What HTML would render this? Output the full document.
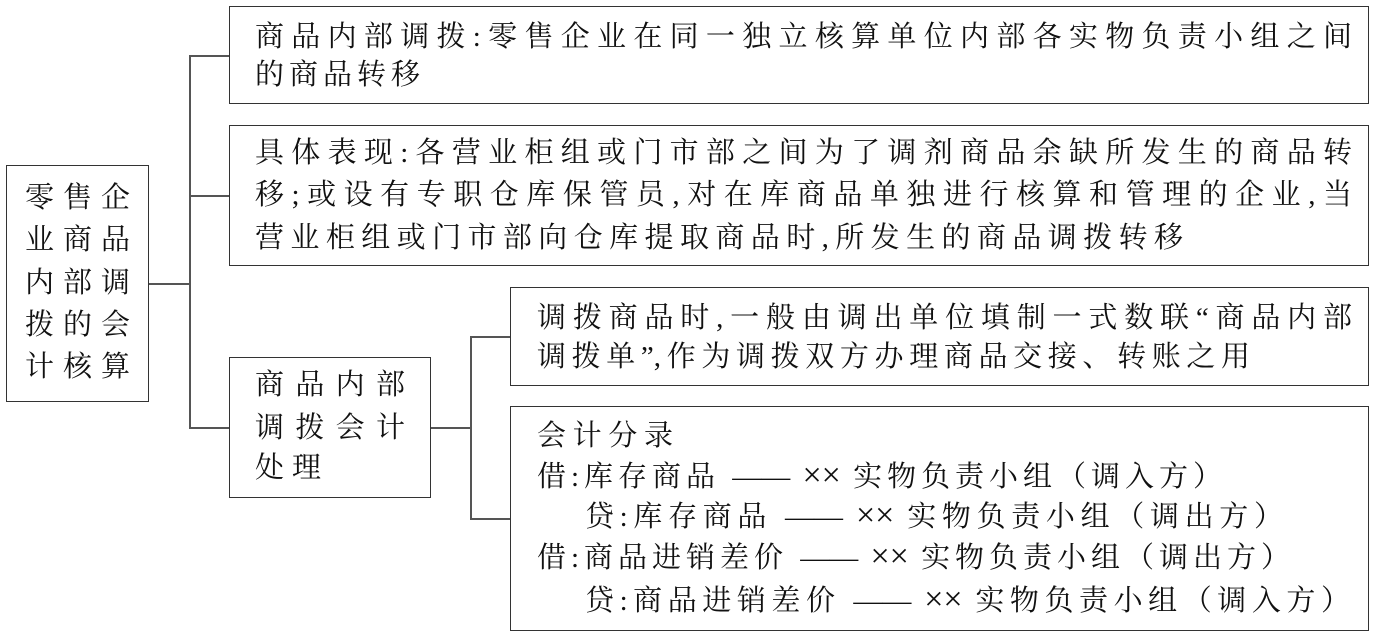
<!DOCTYPE html>
<html><head><meta charset="utf-8"><style>
body{margin:0;width:1386px;height:637px;background:#fff;position:relative;overflow:hidden;font-family:"Liberation Serif","Noto Serif CJK SC",serif;}
.b{position:absolute;border:1.5px solid #333;box-sizing:border-box;}
.l{position:absolute;background:#555;}
.t{position:absolute;font-size:29px;line-height:30px;white-space:nowrap;color:#111;text-align:justify;text-align-last:justify;text-justify:inter-character;}
.x{font-size:34px;}
</style></head><body>
<div class="b" style="left:6px;top:165px;width:143px;height:237px"></div>
<div class="b" style="left:229px;top:6px;width:1140px;height:98px"></div>
<div class="b" style="left:229px;top:125px;width:1140px;height:141px"></div>
<div class="b" style="left:229px;top:357px;width:202px;height:141px"></div>
<div class="b" style="left:510px;top:287px;width:859px;height:99px"></div>
<div class="b" style="left:510px;top:406px;width:859px;height:225px"></div>

<div class="l" style="left:149px;top:283px;width:40px;height:1.5px"></div>
<div class="l" style="left:189px;top:55px;width:1.5px;height:373px"></div>
<div class="l" style="left:189px;top:55px;width:40px;height:1.5px"></div>
<div class="l" style="left:189px;top:195px;width:40px;height:1.5px"></div>
<div class="l" style="left:189px;top:427px;width:40px;height:1.5px"></div>
<div class="l" style="left:431px;top:427px;width:39px;height:1.5px"></div>
<div class="l" style="left:470px;top:336px;width:1.5px;height:183px"></div>
<div class="l" style="left:470px;top:336px;width:40px;height:1.5px"></div>
<div class="l" style="left:470px;top:518px;width:40px;height:1.5px"></div>

<div class="t" style="left:25px;top:183px;width:105px">零售企</div>
<div class="t" style="left:25px;top:225px;width:105px">业商品</div>
<div class="t" style="left:25px;top:268px;width:105px">内部调</div>
<div class="t" style="left:25px;top:310px;width:105px">拨的会</div>
<div class="t" style="left:25px;top:352px;width:105px">计核算</div>

<div class="t" style="left:255px;top:22px;width:1097px">商品内部调拨:零售企业在同一独立核算单位内部各实物负责小组之间</div>
<div class="t" style="left:255px;top:60px;width:165px">的商品转移</div>

<div class="t" style="left:255px;top:138px;width:1097px">具体表现:各营业柜组或门市部之间为了调剂商品余缺所发生的商品转</div>
<div class="t" style="left:255px;top:180px;width:1097px">移;或设有专职仓库保管员,对在库商品单独进行核算和管理的企业,当</div>
<div class="t" style="left:255px;top:223px;width:928px">营业柜组或门市部向仓库提取商品时,所发生的商品调拨转移</div>

<div class="t" style="left:255px;top:370px;width:150px">商品内部</div>
<div class="t" style="left:255px;top:413px;width:150px">调拨会计</div>
<div class="t" style="left:255px;top:453px;width:66px">处理</div>

<div class="t" style="left:537px;top:303px;width:815px">调拨商品时,一般由调出单位填制一式数联“商品内部</div>
<div class="t" style="left:537px;top:342px;width:713px">调拨单”,作为调拨双方办理商品交接、转账之用</div>

<div class="t" style="left:537px;top:421px;width:136px">会计分录</div>
<div class="t" style="left:537px;top:461px;width:685px">借:库存商品 —— <span class="x">××</span> 实物负责小组（调入方）</div>
<div class="t" style="left:585px;top:501px;width:698px">贷:库存商品 —— <span class="x">××</span> 实物负责小组（调出方）</div>
<div class="t" style="left:537px;top:542px;width:753px">借:商品进销差价 —— <span class="x">××</span> 实物负责小组（调出方）</div>
<div class="t" style="left:585px;top:585px;width:765px">贷:商品进销差价 —— <span class="x">××</span> 实物负责小组（调入方）</div>
</body></html>
